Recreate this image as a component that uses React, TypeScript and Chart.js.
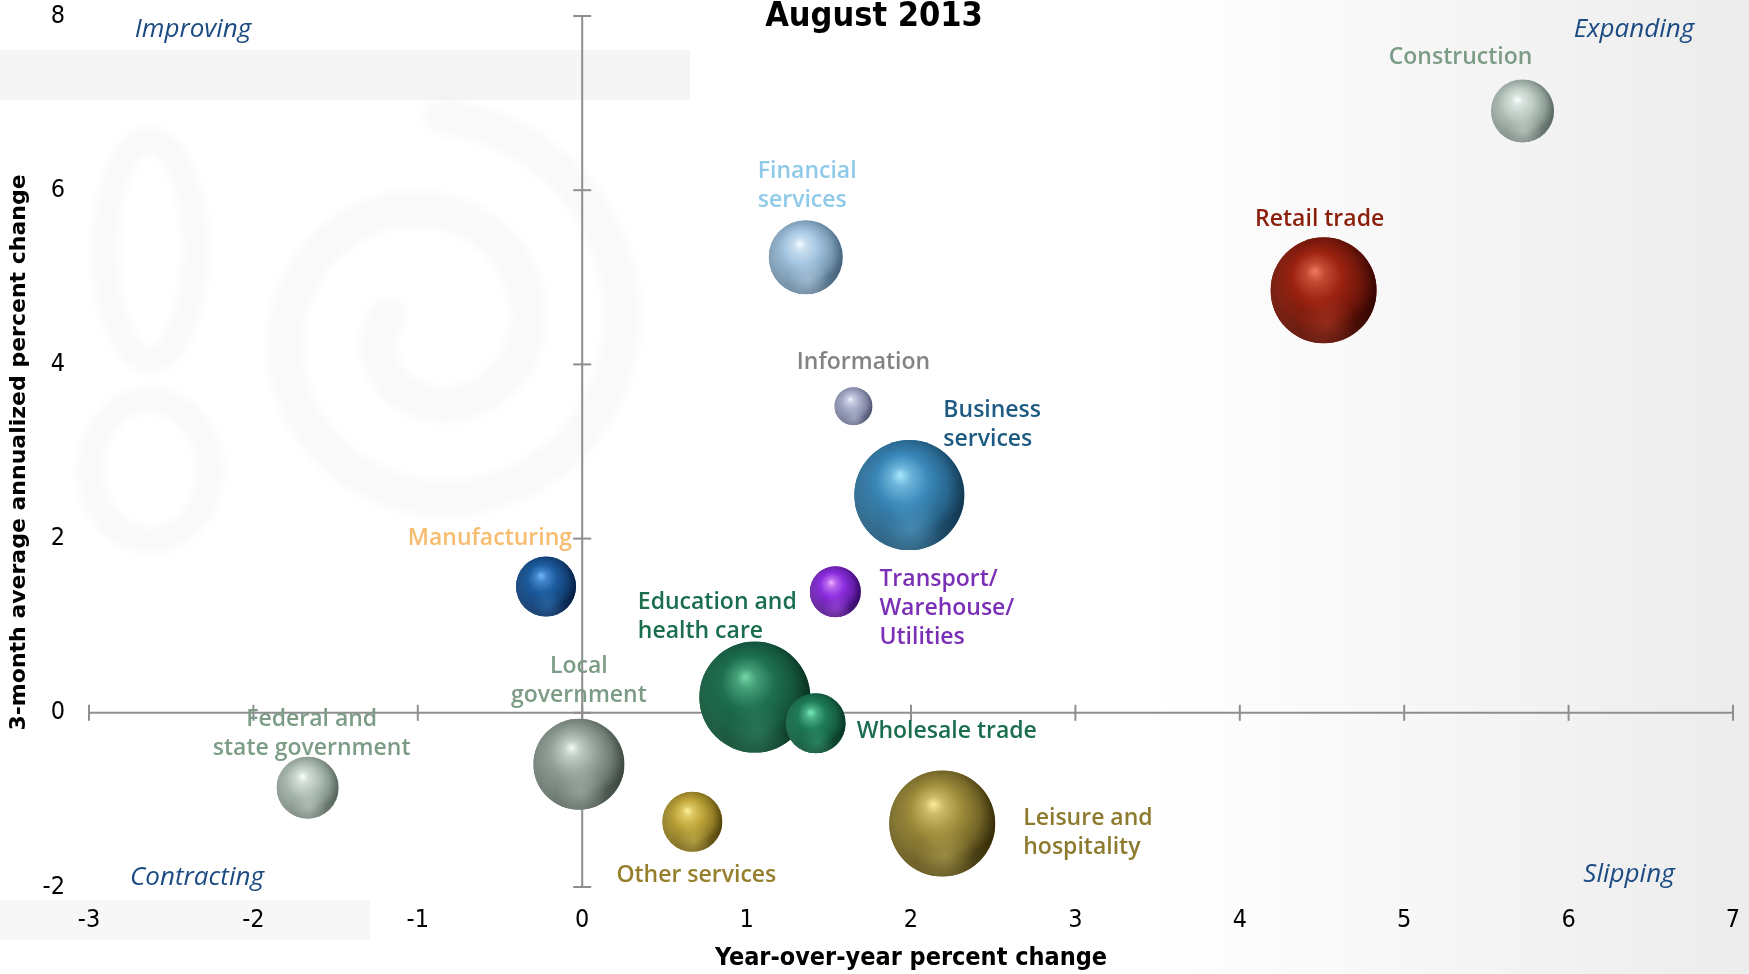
import React, { useEffect, useRef } from "react";
import { Chart, registerables } from "chart.js";

Chart.register(...registerables);

// ---- Data -------------------------------------------------------------
const sectors = [
  "Construction",
  "Retail trade",
  "Financial services",
  "Information",
  "Business services",
  "Manufacturing",
  "Transport/Warehouse/Utilities",
  "Education and health care",
  "Wholesale trade",
  "Local government",
  "Federal and state government",
  "Other services",
  "Leisure and hospitality",
];

// Year-over-year percent change
const yoyChange = [5.72, 4.51, 1.36, 1.65, 1.99, -0.22, 1.54, 1.05, 1.42, -0.02, -1.67, 0.67, 2.19];
// 3-month average annualized percent change
const threeMonthChange = [6.91, 4.85, 5.23, 3.52, 2.5, 1.45, 1.39, 0.18, -0.12, -0.59, -0.86, -1.25, -1.27];
// Relative sector weight (bubble area)
const sectorWeight = [9.9, 28.1, 13.7, 3.6, 30.3, 9.0, 6.5, 30.8, 9.0, 20.7, 9.6, 9.0, 28.1];

const sectorLabelLines = [
  ["Construction"],
  ["Retail trade"],
  ["Financial", "services"],
  ["Information"],
  ["Business", "services"],
  ["Manufacturing"],
  ["Transport/", "Warehouse/", "Utilities"],
  ["Education and", "health care"],
  ["Wholesale trade"],
  ["Local", "government"],
  ["Federal and", "state government"],
  ["Other services"],
  ["Leisure and", "hospitality"],
];

const xTickValues = [-3, -2, -1, 0, 1, 2, 3, 4, 5, 6, 7];
const yTickValues = [-2, 0, 2, 4, 6, 8];

const chartTitle = "August 2013";
const xAxisTitle = "Year-over-year percent change";
const yAxisTitle = "3-month average annualized percent change";
const quadrantNames = ["Improving", "Expanding", "Contracting", "Slipping"];

// ---- Styles -----------------------------------------------------------
type SphereStyle = { hi: string; base: string; dark: string; text: string };
const sphereStyles: SphereStyle[] = [
  { hi: "#fbfffc", base: "#bccbc3", dark: "#4f5e57", text: "#7c9c86" },
  { hi: "#f07a5e", base: "#9c2210", dark: "#2a0300", text: "#8a1f0c" },
  { hi: "#f4fcff", base: "#a2c4e0", dark: "#3c5870", text: "#8fcae8" },
  { hi: "#f2f4ff", base: "#a6acc8", dark: "#444a68", text: "#838383" },
  { hi: "#a8e8ff", base: "#3a88ba", dark: "#0e3048", text: "#1e5b82" },
  { hi: "#70b8ff", base: "#1c5c9e", dark: "#06183a", text: "#f8bc6e" },
  { hi: "#f0b0ff", base: "#8c2ee0", dark: "#2c0658", text: "#7a2fb6" },
  { hi: "#74d8a6", base: "#1e7052", dark: "#062a1a", text: "#1a6e4e" },
  { hi: "#7aeebb", base: "#1f7c5a", dark: "#06301f", text: "#1a6e4e" },
  { hi: "#f2fbf5", base: "#97a69d", dark: "#333d37", text: "#7c9c86" },
  { hi: "#fbfffc", base: "#b3c3b9", dark: "#4d5c54", text: "#7c9c86" },
  { hi: "#fff29a", base: "#c0a63a", dark: "#4a3c08", text: "#957f2c" },
  { hi: "#fbeb96", base: "#a08e3c", dark: "#2c2404", text: "#8c7a2e" },
];

// Label placement relative to each bubble centre (px)
const labelLayout: { dx: number; dy: number; align: CanvasTextAlign }[] = [
  { dx: -62, dy: -53, align: "center" },
  { dx: -4, dy: -71, align: "center" },
  { dx: -48, dy: -86, align: "left" },
  { dx: 10, dy: -44, align: "center" },
  { dx: 34, dy: -85, align: "left" },
  { dx: 26, dy: -48, align: "right" },
  { dx: 44, dy: -12, align: "left" },
  { dx: -117, dy: -95, align: "left" },
  { dx: 41, dy: 8, align: "left" },
  { dx: 0, dy: -98, align: "center" },
  { dx: 4, dy: -68, align: "center" },
  { dx: 4, dy: 54, align: "center" },
  { dx: 81, dy: -5, align: "left" },
];

const NARROW = '"Liberation Sans Narrow", "DejaVu Sans Condensed", "Arial Narrow", sans-serif';
const LABEL_FONT = '600 23px "Open Sans", Lato, sans-serif';
const QUAD_FONT = 'italic 26px "Open Sans", Lato, sans-serif';
const QUAD_COLOR = "#1b4b82";
const AXIS_COLOR = "#8e8e8e";

function hexToRgb(h: string) {
  const n = parseInt(h.slice(1), 16);
  return [(n >> 16) & 255, (n >> 8) & 255, n & 255];
}
function mix(a: string, b: string, t: number, alpha = 1) {
  const A = hexToRgb(a);
  const B = hexToRgb(b);
  const c = A.map((v, i) => Math.round(v + (B[i] - v) * t));
  return `rgba(${c[0]},${c[1]},${c[2]},${alpha})`;
}

function drawSphere(ctx: CanvasRenderingContext2D, cx: number, cy: number, r: number, s: SphereStyle) {
  ctx.save();
  ctx.beginPath();
  ctx.arc(cx, cy, r, 0, Math.PI * 2);
  ctx.closePath();
  ctx.clip();
  const g = ctx.createRadialGradient(cx - 0.17 * r, cy - 0.37 * r, 0, cx - 0.06 * r, cy - 0.12 * r, r * 1.12);
  g.addColorStop(0, s.hi);
  g.addColorStop(0.16, mix(s.hi, s.base, 0.55));
  g.addColorStop(0.42, s.base);
  g.addColorStop(0.72, mix(s.base, s.dark, 0.4));
  g.addColorStop(0.9, mix(s.base, s.dark, 0.8));
  g.addColorStop(1, s.dark);
  ctx.fillStyle = g;
  ctx.fillRect(cx - r, cy - r, 2 * r, 2 * r);
  // soft reflected light near the lower rim
  const g2 = ctx.createRadialGradient(cx + 0.05 * r, cy + 0.62 * r, 0, cx + 0.05 * r, cy + 0.62 * r, 0.55 * r);
  g2.addColorStop(0, mix(s.base, s.hi, 0.35, 0.5));
  g2.addColorStop(1, mix(s.base, s.hi, 0.35, 0));
  ctx.fillStyle = g2;
  ctx.fillRect(cx - r, cy - r, 2 * r, 2 * r);
  // lighter rim on the lower-left edge
  const g3 = ctx.createRadialGradient(cx + 0.25 * r, cy - 0.25 * r, r * 0.85, cx + 0.25 * r, cy - 0.25 * r, r * 1.45);
  g3.addColorStop(0, mix(s.base, s.hi, 0.4, 0));
  g3.addColorStop(1, mix(s.base, s.hi, 0.4, 0.5));
  ctx.fillStyle = g3;
  ctx.fillRect(cx - r, cy - r, 2 * r, 2 * r);
  ctx.restore();
}

// ---- Plugins ----------------------------------------------------------
const backgroundPlugin = {
  id: "pageBackground",
  beforeDraw(chart: any) {
    const { ctx, width, height } = chart;
    ctx.save();
    ctx.fillStyle = "#ffffff";
    ctx.fillRect(0, 0, width, height);
    const grad = ctx.createLinearGradient(1150, 0, width, 0);
    grad.addColorStop(0, "rgba(236,236,236,0)");
    grad.addColorStop(1, "rgba(236,236,236,1)");
    ctx.fillStyle = grad;
    ctx.fillRect(1150, 0, width - 1150, height);
    // faint ornamental watermark
    ctx.fillStyle = "rgba(0,0,0,0.04)";
    ctx.fillRect(0, 50, 690, 50);
    ctx.fillStyle = "rgba(0,0,0,0.03)";
    ctx.fillRect(0, 900, 370, 40);
    ctx.filter = "blur(4px)";
    ctx.strokeStyle = "rgba(0,0,0,0.022)";
    ctx.lineWidth = 36;
    ctx.lineCap = "round";
    ctx.beginPath();
    const cx = 430, cy = 330;
    for (let t = 0; t <= 1; t += 0.005) {
      const ang = Math.PI * 1.1 - t * Math.PI * 3.6;
      const rad = 45 + t * 170;
      const px = cx + rad * Math.cos(ang);
      const py = cy + rad * Math.sin(ang);
      if (t === 0) ctx.moveTo(px, py);
      else ctx.lineTo(px, py);
    }
    ctx.stroke();
    ctx.lineWidth = 26;
    ctx.beginPath();
    ctx.ellipse(150, 250, 45, 110, 0, 0, Math.PI * 2);
    ctx.stroke();
    ctx.beginPath();
    ctx.ellipse(150, 470, 60, 70, 0, 0, Math.PI * 2);
    ctx.stroke();
    ctx.filter = "none";
    ctx.restore();
  },
};

const crossAxesPlugin = {
  id: "crossAxes",
  beforeDatasetsDraw(chart: any) {
    const { ctx, chartArea } = chart;
    const xs = chart.scales.x;
    const ys = chart.scales.y;
    const x0 = xs.getPixelForValue(0);
    const y0 = ys.getPixelForValue(0);
    ctx.save();
    ctx.strokeStyle = AXIS_COLOR;
    ctx.lineWidth = 2;
    const seg = (a: number, b: number, c: number, d: number) => {
      ctx.beginPath();
      ctx.moveTo(a, b);
      ctx.lineTo(c, d);
      ctx.stroke();
    };
    seg(x0, ys.getPixelForValue(ys.min), x0, ys.getPixelForValue(ys.max));
    seg(xs.getPixelForValue(xs.min), y0, xs.getPixelForValue(xs.max), y0);
    yTickValues.forEach((v) => {
      const py = ys.getPixelForValue(v);
      seg(x0 - 9, py, x0 + 9, py);
    });
    xTickValues.forEach((v) => {
      const px = xs.getPixelForValue(v);
      seg(px, y0 - 8, px, y0 + 8);
    });

    // tick labels
    ctx.fillStyle = "#000";
    ctx.font = `25px ${NARROW}`;
    ctx.textBaseline = "middle";
    ctx.textAlign = "right";
    yTickValues.forEach((v) => {
      ctx.fillText(String(v), chartArea.left - 24, ys.getPixelForValue(v));
    });
    ctx.textAlign = "center";
    xTickValues.forEach((v) => {
      ctx.fillText(String(v), xs.getPixelForValue(v), chartArea.bottom + 33);
    });

    // axis titles
    ctx.font = `bold 25px ${NARROW}`;
    ctx.fillText(xAxisTitle, (chartArea.left + chartArea.right) / 2, chartArea.bottom + 71);
    ctx.save();
    ctx.translate(19, (chartArea.top + chartArea.bottom) / 2 + 1);
    ctx.rotate(-Math.PI / 2);
    ctx.font = 'bold 22px "DejaVu Sans", Verdana, sans-serif';
    ctx.fillText(yAxisTitle, 0, 0);
    ctx.restore();
    ctx.restore();
  },
};

const spherePlugin = {
  id: "spheres",
  afterDatasetsDraw(chart: any) {
    const { ctx } = chart;
    const meta = chart.getDatasetMeta(0);
    meta.data.forEach((el: any, i: number) => {
      drawSphere(ctx, el.x, el.y, el.options.radius, sphereStyles[i]);
    });
  },
};

const annotationPlugin = {
  id: "annotations",
  afterDatasetsDraw(chart: any) {
    const { ctx, chartArea } = chart;
    const meta = chart.getDatasetMeta(0);
    ctx.save();
    ctx.font = LABEL_FONT;
    ctx.textBaseline = "middle";
    meta.data.forEach((el: any, i: number) => {
      const lay = labelLayout[i];
      ctx.fillStyle = sphereStyles[i].text;
      ctx.textAlign = lay.align;
      sectorLabelLines[i].forEach((line, k) => {
        ctx.fillText(line, el.x + lay.dx, el.y + lay.dy + k * 29);
      });
    });
    // quadrant names
    ctx.font = QUAD_FONT;
    ctx.fillStyle = QUAD_COLOR;
    ctx.textAlign = "center";
    ctx.fillText(quadrantNames[0], chartArea.left + 104, chartArea.top + 14);
    ctx.fillText(quadrantNames[1], chartArea.right - 99, chartArea.top + 14);
    ctx.fillText(quadrantNames[2], chartArea.left + 108, chartArea.bottom - 9);
    ctx.fillText(quadrantNames[3], chartArea.right - 104, chartArea.bottom - 12);
    // chart title
    ctx.font = `bold 34px ${NARROW}`;
    ctx.fillStyle = "#000000";
    ctx.textBaseline = "alphabetic";
    ctx.fillText(chartTitle, chartArea.left + 785, 26);
    ctx.restore();
  },
};

export default function App() {
  const canvasRef = useRef<HTMLCanvasElement>(null);

  useEffect(() => {
    document.body.style.margin = "0";
    const canvas = canvasRef.current;
    if (!canvas) return;
    const points = sectors.map((_, i) => ({
      x: yoyChange[i],
      y: threeMonthChange[i],
      r: 10 * Math.sqrt(sectorWeight[i]),
    }));
    const chart = new Chart(canvas, {
      type: "bubble",
      data: {
        datasets: [
          {
            label: "Sectors",
            data: points,
            backgroundColor: sphereStyles.map((s) => s.base),
            borderWidth: 0,
            clip: false as any,
          },
        ],
      },
      options: {
        responsive: false,
        animation: false,
        devicePixelRatio: 1,
        layout: { autoPadding: false, padding: { top: 16, right: 16, left: 89, bottom: 87 } },
        plugins: { legend: { display: false }, tooltip: { enabled: false } },
        scales: {
          x: { type: "linear", min: -3, max: 7, display: false },
          y: { type: "linear", min: -2, max: 8, display: false },
        },
      },
      plugins: [backgroundPlugin, crossAxesPlugin, spherePlugin, annotationPlugin],
    });
    return () => chart.destroy();
  }, []);

  return (
    <div style={{ position: "fixed", left: 0, top: 0, width: 1749, height: 974 }}>
      <canvas ref={canvasRef} width={1749} height={974} style={{ display: "block" }} />
    </div>
  );
}
